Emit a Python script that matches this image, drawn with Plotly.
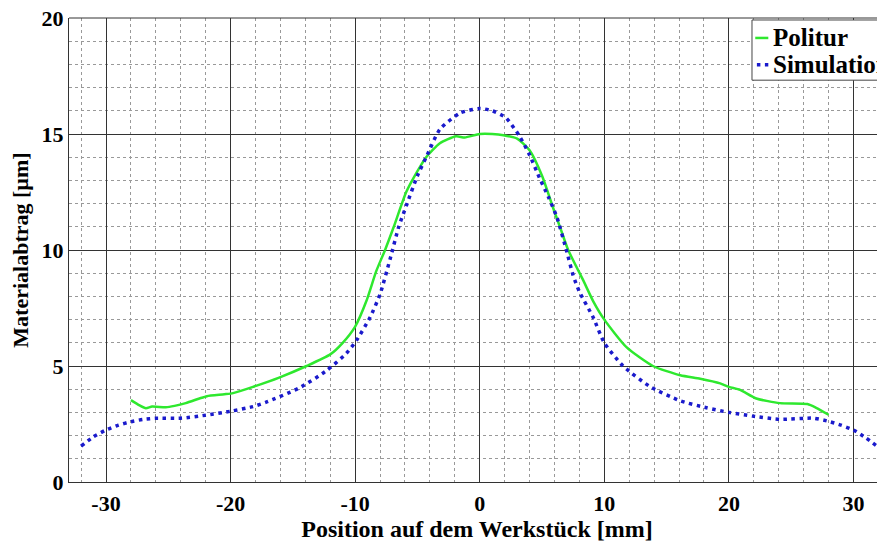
import plotly.graph_objects as go

# Politur (measured polishing removal)
politur_x = [-28, -27.3, -26.8, -26.3, -25.2, -24.5, -23.6, -22.5, -21.9, -20.5, -19.8, -18.2,
             -16.1, -13.9, -12.0, -11.0, -10.0, -9.1, -8.3, -7.6, -6.9, -5.9, -5.0, -4.3, -3.2,
             -1.9, -1.2, 0, 1.0, 1.9, 3.0, 4.0, 5.0, 5.9, 6.5, 7.1, 8.3, 9.1, 10.0, 11.8, 13.9,
             16.1, 17.7, 19.3, 20.0, 20.9, 22.2, 24.1, 26.3, 27.0, 28.0]
politur_y = [3.53, 3.3, 3.18, 3.25, 3.22, 3.28, 3.4, 3.6, 3.7, 3.78, 3.83, 4.1,
             4.5, 5.0, 5.5, 6.0, 6.7, 7.8, 9.1, 10.0, 11.0, 12.5, 13.4, 14.0, 14.6,
             14.9, 14.85, 15.0, 15.0, 14.95, 14.8, 14.3, 13.2, 11.8, 10.9, 10.0, 8.7, 7.8, 7.0, 5.8, 5.0,
             4.6, 4.45, 4.25, 4.1, 3.97, 3.6, 3.4, 3.36, 3.2, 2.9]

# Simulation
sim_x = [-32, -31, -30, -29, -28, -27, -26, -24, -22, -20, -18.2, -17.1, -14.5, -12.3, -10.7,
         -9.9, -8.8, -8.0, -7.2, -6.5, -5.9, -5.0, -4.3, -3.2, -1.6, 0, 1.0, 2.1, 3.2, 4.0, 4.8,
         5.5, 6.2, 7.0, 7.5, 8.0, 9.1, 10.0, 11.5, 13.7, 16.1, 18.2, 20.0, 21.9, 24.1, 26.8, 28.1,
         29, 30, 31, 32]
sim_y = [1.55, 1.95, 2.24, 2.45, 2.6, 2.7, 2.75, 2.75, 2.88, 3.05, 3.25, 3.45, 4.05, 4.8, 5.55,
         6.1, 7.1, 8.1, 9.6, 11.0, 11.9, 13.2, 14.0, 15.2, 15.9, 16.1, 16.0, 15.7, 14.9, 14.1, 13.1,
         12.3, 11.4, 9.9, 8.9, 8.2, 7.1, 6.0, 5.0, 4.1, 3.5, 3.2, 3.0, 2.84, 2.7, 2.75, 2.6,
         2.45, 2.24, 1.9, 1.5]

x_ticks = [-30, -20, -10, 0, 10, 20, 30]
y_ticks = [0, 5, 10, 15, 20]
series_names = ["Politur", "Simulation"]

FONT = "Liberation Serif, Times New Roman, Times, serif"
GREEN = "#2ee82e"
BLUE = "#1a1acc"

fig = go.Figure()
fig.add_trace(go.Scatter(x=politur_x, y=politur_y, mode="lines", name=series_names[0],
                         line=dict(color=GREEN, width=2.5, shape="spline", smoothing=0.6)))
fig.add_trace(go.Scatter(x=sim_x, y=sim_y, mode="lines", name=series_names[1],
                         line=dict(color=BLUE, width=3.5, dash="3.5px,4.5px", shape="spline", smoothing=0.6)))

# custom compact legend (short line samples as in the reference)
shapes = [
    dict(type="line", xref="paper", yref="paper", x0=0, x1=1, y0=1, y1=1,
         line=dict(color="#333", width=1)),
    dict(type="rect", xref="paper", yref="paper", x0=0.837, x1=1.03, y0=0.866, y1=0.9957,
         fillcolor="white", line=dict(color="#444", width=1), layer="above"),
    dict(type="line", xref="paper", yref="paper", x0=0.841, x1=0.857, y0=0.957, y1=0.957,
         line=dict(color=GREEN, width=2.5), layer="above"),
    dict(type="line", xref="paper", yref="paper", x0=0.843, x1=0.857, y0=0.899, y1=0.899,
         line=dict(color=BLUE, width=3.5, dash="3.5px,4.5px"), layer="above"),
]
annotations = [
    dict(xref="paper", yref="paper", x=0.8605, y=0.957, xanchor="left", yanchor="middle",
         text=f"<b>{series_names[0]}</b>", showarrow=False, font=dict(family=FONT, size=25, color="black")),
    dict(xref="paper", yref="paper", x=0.8605, y=0.899, xanchor="left", yanchor="middle",
         text=f"<b>{series_names[1]}</b>", showarrow=False, font=dict(family=FONT, size=25, color="black")),
]

fig.update_layout(
    width=885, height=542,
    margin=dict(l=61, r=8, t=10, b=68, autoexpand=False),
    paper_bgcolor="white", plot_bgcolor="white",
    font=dict(family=FONT, size=22, color="black"),
    showlegend=False,
    xaxis=dict(range=[-32.97, 32.53], tickmode="array", tickvals=x_ticks,
               ticktext=[f"<b>{v}</b>" for v in x_ticks], automargin=False,
               ticklabeloverflow="allow", ticklabelstandoff=2,
               showgrid=True, gridcolor="#333", gridwidth=1,
               minor=dict(dtick=2, tick0=0, showgrid=True, gridcolor="#999", griddash="dot", gridwidth=1),
               showline=True, linecolor="#333", linewidth=1, zeroline=False, ticks="",
               tickfont=dict(family=FONT, size=22),
               title=dict(text="<b>Position auf dem Werkstück [mm]</b>", standoff=3,
                          font=dict(family=FONT, size=24))),
    yaxis=dict(range=[0, 20], tickmode="array", tickvals=y_ticks,
               ticktext=[f"<b>{v}</b>" for v in y_ticks], automargin=False,
               ticklabeloverflow="allow",
               showgrid=True, gridcolor="#333", gridwidth=1,
               minor=dict(dtick=1, tick0=0, showgrid=True, gridcolor="#999", griddash="dot", gridwidth=1),
               showline=True, linecolor="#333", linewidth=1, zeroline=False, ticks="",
               tickfont=dict(family=FONT, size=22),
               title=dict(text="<b>Materialabtrag [µm]</b>", standoff=8,
                          font=dict(family=FONT, size=22))),
    shapes=shapes,
    annotations=annotations,
)

fig.write_html("out.html")
